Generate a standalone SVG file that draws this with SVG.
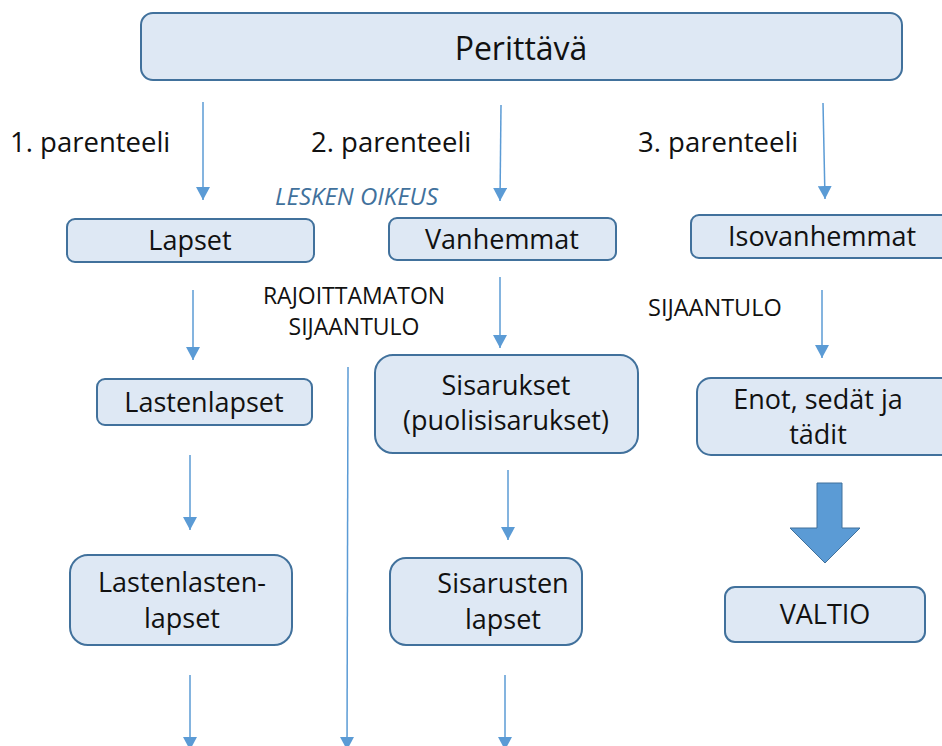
<svg xmlns="http://www.w3.org/2000/svg" width="942" height="746" viewBox="0 0 942 746">
<defs>
<marker id="ah" markerWidth="15" markerHeight="14" refX="13" refY="7" orient="auto" markerUnits="userSpaceOnUse">
<path d="M0,0 L13,7 L0,14 Z" fill="#5B9BD5"/>
</marker>
<style>
.box{fill:#DEE8F4;stroke:#41719C;stroke-width:2}
.t{font-family:"Open Sans","Noto Sans",sans-serif;fill:#111;text-anchor:middle;font-size:27px}
.lbl{font-family:"Open Sans","Noto Sans",sans-serif;fill:#111}
.c{stroke:#5B9BD5;stroke-width:1.5;fill:none;marker-end:url(#ah)}
</style>
</defs>
<rect width="942" height="746" fill="#fff"/>
<g id="connectors">
<line class="c" x1="203" y1="102" x2="203" y2="200"/>
<line class="c" x1="501" y1="105" x2="500" y2="201"/>
<line class="c" x1="823" y1="103" x2="825" y2="199"/>
<line class="c" x1="193" y1="290" x2="193" y2="360"/>
<line class="c" x1="500" y1="277" x2="500" y2="348"/>
<line class="c" x1="822" y1="290" x2="822" y2="358"/>
<line class="c" x1="190" y1="455" x2="190" y2="530"/>
<line class="c" x1="508" y1="470" x2="508" y2="540"/>
<line class="c" x1="348" y1="367" x2="347" y2="750"/>
<line class="c" x1="190" y1="675" x2="190" y2="750"/>
<line class="c" x1="505" y1="675" x2="505" y2="750"/>
<path d="M817,483 H842 V528 H860 L825,563 L790,528 H817 Z" fill="#5B9BD5" stroke="#41719C" stroke-width="1"/>
</g>
<g id="labels">
<text class="lbl" x="10" y="152" font-size="27.5">1. parenteeli</text>
<text class="lbl" x="311" y="152" font-size="27.5">2. parenteeli</text>
<text class="lbl" x="638" y="152" font-size="27.5">3. parenteeli</text>
<text class="lbl" x="275" y="205" font-size="24" font-style="italic" style="fill:#41719C">LESKEN OIKEUS</text>
<text class="t" x="354" y="304" style="font-size:23px">RAJOITTAMATON</text>
<text class="t" x="354" y="335" style="font-size:23px">SIJAANTULO</text>
<text class="lbl" x="648" y="316" font-size="23.5">SIJAANTULO</text>
</g>
<g id="perittava">
<rect class="box" x="141" y="13" width="761" height="67" rx="12"/>
<text class="t" x="521" y="60" style="font-size:32px">Perittävä</text>
</g>
<g id="lapset">
<rect class="box" x="67" y="219" width="247" height="43" rx="8"/>
<text class="t" x="190" y="250">Lapset</text>
</g>
<g id="vanhemmat">
<rect class="box" x="389" y="218" width="227" height="42" rx="8"/>
<text class="t" x="502" y="249">Vanhemmat</text>
</g>
<g id="isovanhemmat">
<rect class="box" x="691" y="215" width="260" height="43" rx="8"/>
<text class="t" x="822" y="246">Isovanhemmat</text>
</g>
<g id="lastenlapset">
<rect class="box" x="97" y="379" width="215" height="46" rx="8"/>
<text class="t" x="204" y="412">Lastenlapset</text>
</g>
<g id="sisarukset">
<rect class="box" x="375" y="355" width="263" height="98" rx="18"/>
<text class="t" x="506" y="395">Sisarukset</text>
<text class="t" x="506" y="430">(puolisisarukset)</text>
</g>
<g id="enot">
<rect class="box" x="697" y="378" width="260" height="77" rx="14"/>
<text class="t" x="818" y="409">Enot, sedät ja</text>
<text class="t" x="818" y="444">tädit</text>
</g>
<g id="lastenlastenlapset">
<rect class="box" x="70" y="555" width="222" height="90" rx="18"/>
<text class="t" x="182" y="592">Lastenlasten-</text>
<text class="t" x="182" y="628">lapset</text>
</g>
<g id="sisarustenlapset">
<rect class="box" x="390" y="558" width="192" height="87" rx="16"/>
<text class="t" x="503" y="593">Sisarusten</text>
<text class="t" x="503" y="629">lapset</text>
</g>
<g id="valtio">
<rect class="box" x="725" y="587" width="200" height="55" rx="10"/>
<text class="t" x="825" y="624">VALTIO</text>
</g>
</svg>
